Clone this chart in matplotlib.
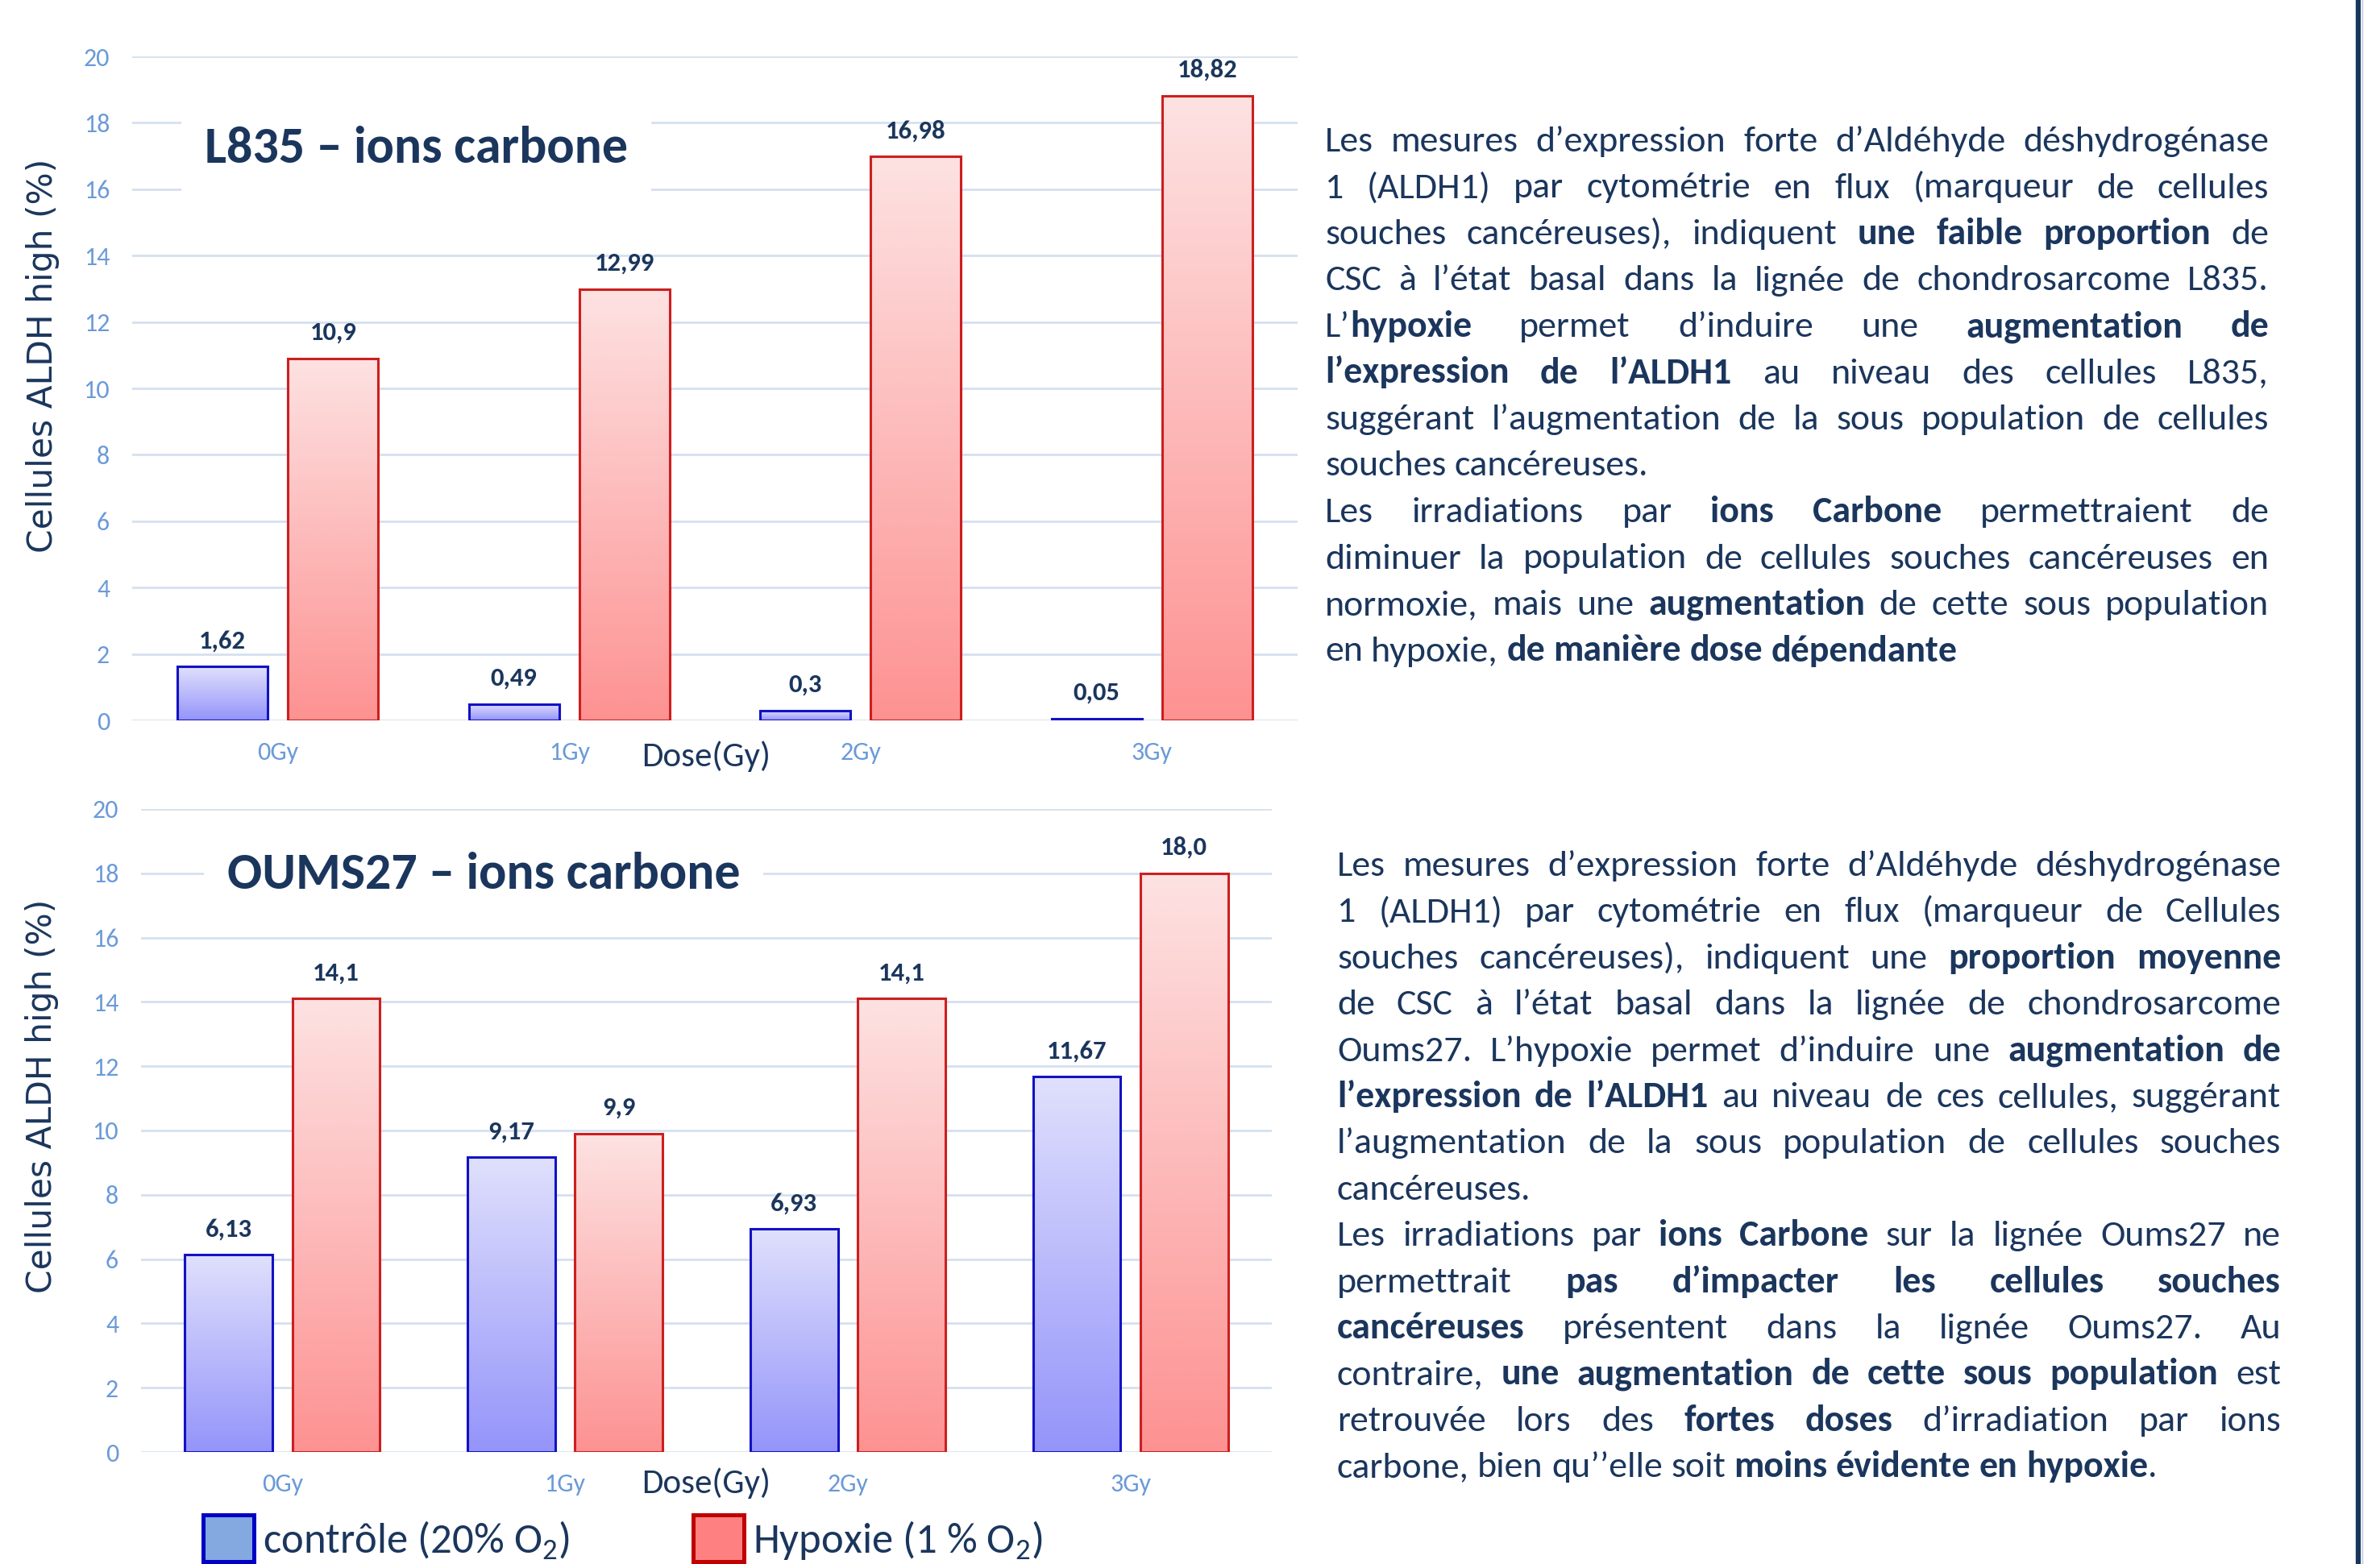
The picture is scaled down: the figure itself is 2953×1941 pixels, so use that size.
import matplotlib
matplotlib.use("Agg")
import numpy as np
import matplotlib.pyplot as plt
from matplotlib.colors import LinearSegmentedColormap
from matplotlib.patches import Patch
from matplotlib.lines import Line2D

# ---------------- data ----------------
doses = ["0Gy", "1Gy", "2Gy", "3Gy"]
l835_controle = [1.62, 0.49, 0.3, 0.05]
l835_hypoxie = [10.9, 12.99, 16.98, 18.82]
oums27_controle = [6.13, 9.17, 6.93, 11.67]
oums27_hypoxie = [14.1, 9.9, 14.1, 18.0]
y_ticks = [0, 2, 4, 6, 8, 10, 12, 14, 16, 18, 20]

title_top = "L835 – ions carbone"
title_bottom = "OUMS27 – ions carbone"
legend_labels = ["contrôle (20% O$_\\mathregular{2}$)", "Hypoxie (1 % O$_\\mathregular{2}$)"]

para_top = [
    ("Les mesures d’expression forte d’Aldéhyde déshydrogénase", True),
    ("1 (ALDH1) par cytométrie en flux (marqueur de cellules", True),
    ("souches cancéreuses), indiquent **une faible proportion** de", True),
    ("CSC à l’état basal dans la lignée de chondrosarcome L835.", True),
    ("L’**hypoxie** permet d’induire une **augmentation de**", True),
    ("**l’expression de l’ALDH1** au niveau des cellules L835,", True),
    ("suggérant l’augmentation de la sous population de cellules", True),
    ("souches cancéreuses.", False),
    ("Les irradiations par **ions Carbone** permettraient de", True),
    ("diminuer la population de cellules souches cancéreuses en", True),
    ("normoxie, mais une **augmentation** de cette sous population", True),
    ("en hypoxie, **de manière dose dépendante**", False),
]
para_bottom = [
    ("Les mesures d’expression forte d’Aldéhyde déshydrogénase", True),
    ("1 (ALDH1) par cytométrie en flux (marqueur de Cellules", True),
    ("souches cancéreuses), indiquent une **proportion moyenne**", True),
    ("de CSC à l’état basal dans la lignée de chondrosarcome", True),
    ("Oums27. L’hypoxie permet d’induire une **augmentation de**", True),
    ("**l’expression de l’ALDH1** au niveau de ces cellules, suggérant", True),
    ("l’augmentation de la sous population de cellules souches", True),
    ("cancéreuses.", False),
    ("Les irradiations par **ions Carbone** sur la lignée Oums27 ne", True),
    ("permettrait **pas d’impacter les cellules souches**", True),
    ("**cancéreuses**  présentent dans la lignée Oums27. Au", True),
    ("contraire, **une augmentation de cette sous population** est", True),
    ("retrouvée lors des **fortes doses** d’irradiation par ions", True),
    ("carbone, bien qu’’elle soit **moins évidente en hypoxie**.", False),
]

# ---------------- style ----------------
NAVY = "#1b365d"
TICK = "#6a9ad8"
GRID = "#d5e0f0"
FONT = "Carlito"
plt.rcParams["font.family"] = [FONT, "DejaVu Sans"]
plt.rcParams["mathtext.fontset"] = "custom"
plt.rcParams["mathtext.rm"] = FONT

W, H = 2953, 1941
fig = plt.figure(figsize=(W / 100, H / 100), dpi=100)
fig.patch.set_facecolor("white")

blue_cmap = LinearSegmentedColormap.from_list("b", ["#9494fa", "#e0e0fd"])
red_cmap = LinearSegmentedColormap.from_list("r", ["#fd9292", "#fde2e2"])
grad = np.linspace(0, 1, 256).reshape(-1, 1)


def draw_chart(rect, ctrl, hyp, title, title_xy, ylab_xy, xlab_xy):
    ax = fig.add_axes(rect)
    x = np.arange(len(doses))
    off, bw = 0.19, 0.31
    b1 = ax.bar(x - off, ctrl, width=bw, facecolor="none", edgecolor="#1212c4", linewidth=2.2, zorder=3)
    b2 = ax.bar(x + off, hyp, width=bw, facecolor="none", edgecolor="#cc1f1f", linewidth=2.2, zorder=3)
    for bars, cmap in ((b1, blue_cmap), (b2, red_cmap)):
        for p in bars:
            x0, w_, h_ = p.get_x(), p.get_width(), p.get_height()
            ax.imshow(grad, extent=[x0, x0 + w_, 0, h_], origin="lower", cmap=cmap,
                      aspect="auto", zorder=2, interpolation="bilinear")
        for p in bars:
            v = p.get_height()
            ax.annotate(str(v).replace(".", ","), (p.get_x() + p.get_width() / 2, v),
                        xytext=(0, 23), textcoords="offset points", ha="center", va="center",
                        fontsize=23.5, fontweight="bold", color=NAVY, family=FONT)
    ax.set_xlim(-0.5, len(doses) - 0.5)
    ax.set_ylim(0, 20)
    ax.set_yticks(y_ticks)
    ax.set_xticks(x)
    ax.set_xticklabels(doses)
    ax.grid(axis="y", color=GRID, linewidth=2)
    ax.set_axisbelow(True)
    for s in ax.spines.values():
        s.set_visible(False)
    ax.tick_params(length=0, labelsize=23, labelcolor=TICK)
    ax.tick_params(axis="y", pad=20)
    ax.tick_params(axis="x", pad=19)
    ax.set_xlabel("Dose(Gy)", fontsize=31, color=NAVY, family=FONT)
    ax.xaxis.set_label_coords(*xlab_xy)
    ax.xaxis.label.set_va("center")
    ax.set_ylabel("Cellules ALDH high (%)", fontsize=30.5, color=NAVY, family="DejaVu Sans")
    ax.yaxis.set_label_coords(*ylab_xy)
    ax.yaxis.label.set_va("center")
    ax.text(title_xy[0], title_xy[1], title, transform=ax.transAxes, fontsize=46,
            fontweight="bold", color=NAVY, family=FONT, va="center", ha="left", zorder=5,
            bbox=dict(boxstyle="square,pad=0.45", facecolor="white", edgecolor="none"))
    return ax


ax1 = draw_chart([164 / W, 1 - 894 / H, 1446 / W, 824 / H], l835_controle, l835_hypoxie,
                 title_top, (0.0622, 0.862), (-0.077, 0.549), (0.4924, -0.054))
ax2 = draw_chart([175 / W, 1 - 1802 / H, 1403 / W, 798 / H], oums27_controle, oums27_hypoxie,
                 title_bottom, (0.0763, 0.8985), (-0.0874, 0.554), (0.5, -0.049))

# legend
handles = [Patch(facecolor="#84a8e0", edgecolor="#0000c4", linewidth=3.6),
           Patch(facecolor="#ff8080", edgecolor="#c00000", linewidth=3.6)]
leg = fig.legend(handles, legend_labels, loc="lower left", bbox_to_anchor=(252 / W, 3 / H),
                 ncol=2, frameon=False, prop=dict(family=FONT, size=38), handlelength=1.2,
                 handleheight=1.3, handletextpad=0.2, columnspacing=2.9, borderpad=0,
                 borderaxespad=0)
for t in leg.get_texts():
    t.set_color(NAVY)

# right border line
fig.add_artist(Line2D([2926 / W, 2926 / W], [0, 1], transform=fig.transFigure, color="#17365d", linewidth=4.5))
fig.add_artist(Line2D([2931 / W, 2931 / W], [0, 1], transform=fig.transFigure, color="#b8c6e2", linewidth=1.0))

# justified paragraphs
renderer = fig.canvas.get_renderer()


def parse(line):
    words, cur, bold, buf = [], [], False, ""
    i = 0
    while i < len(line):
        if line.startswith("**", i):
            if buf:
                cur.append((buf, bold))
                buf = ""
            bold = not bold
            i += 2
            continue
        ch = line[i]
        if ch == " ":
            if buf:
                cur.append((buf, bold))
                buf = ""
            if cur:
                words.append(cur)
                cur = []
        else:
            buf += ch
        i += 1
    if buf:
        cur.append((buf, bold))
    if cur:
        words.append(cur)
    return words


def twidth(s, bold, fs):
    t = fig.text(0, 0, s, fontsize=fs, family=FONT, fontweight="bold" if bold else "normal")
    w = t.get_window_extent(renderer).width
    t.remove()
    return w


def draw_para(lines, x_left, x_right, y_first, step, fs):
    space = twidth("a a", False, fs) - twidth("aa", False, fs)
    for k, (line, justify) in enumerate(lines):
        words = parse(line)
        widths = [[twidth(s, b, fs) for s, b in wd] for wd in words]
        total = sum(sum(ws) for ws in widths)
        if justify and len(words) > 1:
            gap = (x_right - x_left - total) / (len(words) - 1)
        else:
            gap = space
        yb = y_first + k * step
        cx = x_left
        for wd, ws in zip(words, widths):
            xx = cx
            for (s, b), w_ in zip(wd, ws):
                fig.text(xx / W, 1 - yb / H, s, fontsize=fs, family=FONT,
                         fontweight="bold" if b else "normal", color=NAVY,
                         ha="left", va="baseline")
                xx += w_
            cx += sum(ws) + gap


FS_TEXT = 33
draw_para(para_top, 1644, 2815, 173 + 15, 57.5, FS_TEXT)
draw_para(para_bottom, 1659, 2830, 1072 + 15, 57.4, FS_TEXT)

fig.savefig("out.png", dpi=100, facecolor="white")
